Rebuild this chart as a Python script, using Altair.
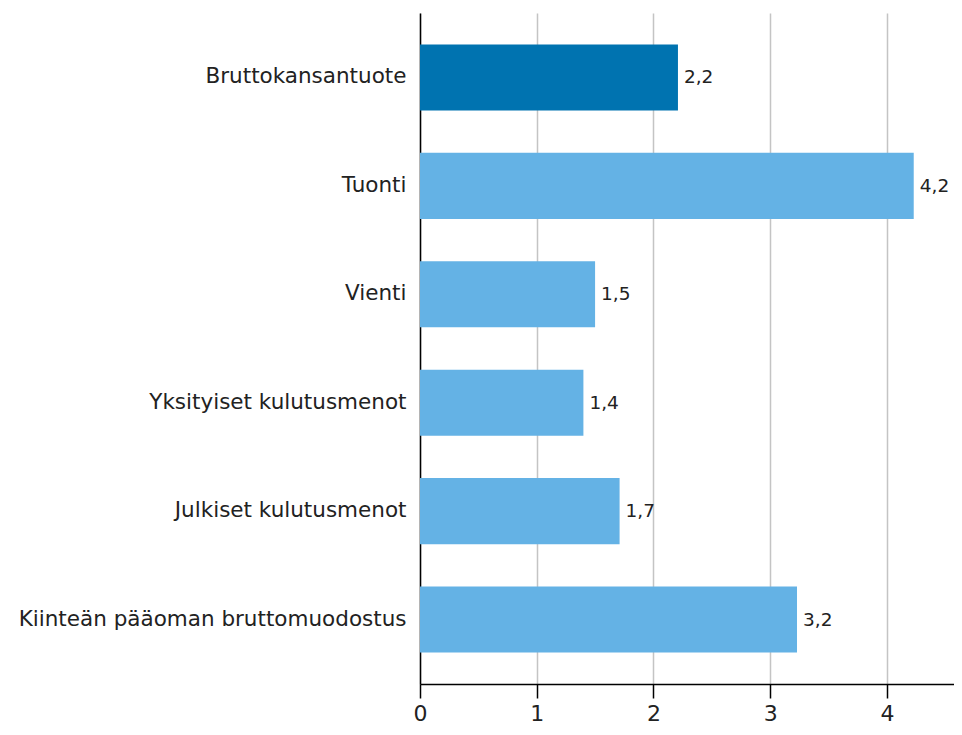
import altair as alt
import pandas as pd

categories = [
    "Bruttokansantuote",
    "Tuonti",
    "Vienti",
    "Yksityiset kulutusmenot",
    "Julkiset kulutusmenot",
    "Kiinteän pääoman bruttomuodostus",
]
values = [2.21, 4.23, 1.50, 1.40, 1.71, 3.23]
value_labels = ["2,2", "4,2", "1,5", "1,4", "1,7", "3,2"]
groups = ["main", "other", "other", "other", "other", "other"]
x_ticks = [0, 1, 2, 3, 4]

df = pd.DataFrame({"cat": categories, "value": values, "label": value_labels, "group": groups})

FONT = "DejaVu Sans"

y_enc = alt.Y(
    "cat:N",
    sort=categories,
    title=None,
    scale=alt.Scale(paddingInner=0.39, paddingOuter=0.29),
    axis=alt.Axis(
        labelFont=FONT,
        labelFontSize=21.5,
        labelColor="#222222",
        labelPadding=14,
        ticks=False,
        domainColor="#000000",
        domainWidth=1.5,
        grid=False,
        minExtent=412,
        maxExtent=412,
        labelLimit=420,
    ),
)

x_enc = alt.X(
    "value:Q",
    title=None,
    scale=alt.Scale(domain=[0, 4.575], nice=False, zero=True),
    axis=alt.Axis(
        values=x_ticks,
        format="d",
        labelFlush=False,
        labelFont=FONT,
        labelFontSize=22,
        labelColor="#222222",
        labelPadding=5,
        tickSize=14,
        tickColor="#000000",
        tickWidth=1.5,
        domainColor="#000000",
        domainWidth=1.5,
        gridColor="#c4c4c4",
        gridWidth=1.5,
    ),
)

bars = alt.Chart(df).mark_bar().encode(
    y=y_enc,
    x=x_enc,
    color=alt.Color(
        "group:N",
        scale=alt.Scale(domain=["main", "other"], range=["#0073b0", "#64b2e5"]),
        legend=None,
    ),
)

text = alt.Chart(df).mark_text(
    align="left", baseline="middle", dx=6, font=FONT, fontSize=18.5, color="#222222"
).encode(
    y=alt.Y("cat:N", sort=categories),
    x=alt.X("value:Q"),
    text="label:N",
)

chart = (
    alt.layer(bars, text)
    .properties(
        width=534,
        height=671,
        background="white",
        padding={"left": 0, "top": 5, "right": 0, "bottom": 0},
    )
    .configure_view(stroke=None)
)

chart.save("out.html", embed_options={"renderer": "svg", "actions": False})
